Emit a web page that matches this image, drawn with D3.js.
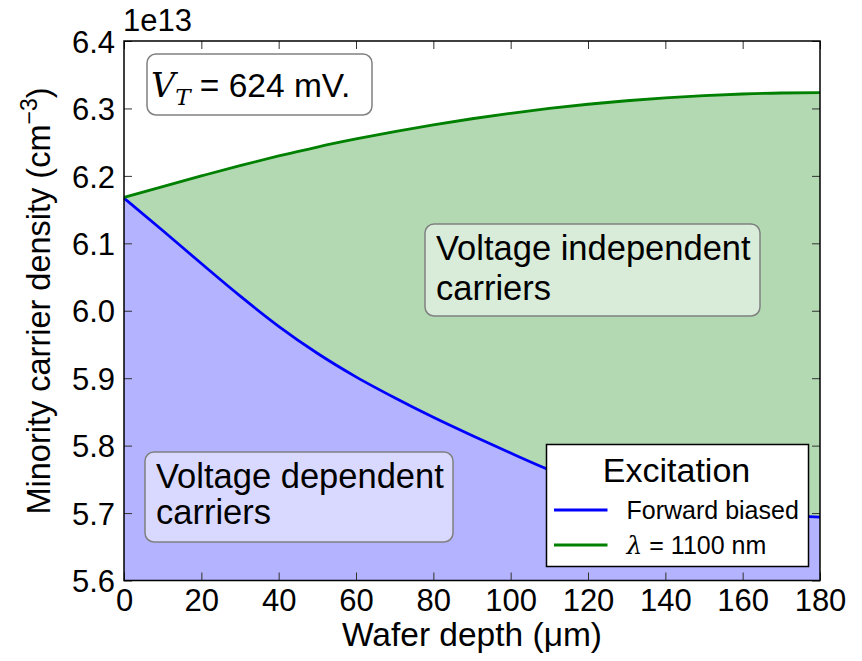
<!DOCTYPE html>
<html>
<head>
<meta charset="utf-8">
<script src="https://cdn.jsdelivr.net/npm/d3@7"></script>
<style>
  body { margin: 0; background: #fff; }
  svg text { font-family: "Liberation Sans", Arial, sans-serif; fill: #000; }
</style>
</head>
<body>
<svg id="chart" width="862" height="661"></svg>
<script>
// DATA (values in units of 1e13 cm^-3)
const depth         = [0, 10, 20, 30, 40, 50, 60, 70, 80, 90, 100, 110, 120, 130, 140, 150, 160, 170, 180]
const forwardBiased = [6.167, 6.119, 6.070, 6.022, 5.977, 5.937, 5.902, 5.871, 5.842, 5.815, 5.789, 5.764, 5.742, 5.725, 5.713, 5.705, 5.700, 5.697, 5.694]
const lambda1100    = [6.168, 6.1842, 6.1999, 6.2152, 6.2295, 6.2428, 6.2547, 6.2657, 6.2757, 6.2847, 6.2928, 6.300, 6.3062, 6.3114, 6.3157, 6.319, 6.3214, 6.3229, 6.3233]
const xTicks = [0, 20, 40, 60, 80, 100, 120, 140, 160, 180]
const yTicks = [5.6, 5.7, 5.8, 5.9, 6.0, 6.1, 6.2, 6.3, 6.4]
const legendItems = [
    { label: 'Forward biased', color: '#0000ff' },
    { label: 'λ = 1100 nm',    color: '#008000', math: true }
]

const svg = d3.select('#chart')
const plot = { left: 124, right: 820, top: 41, bottom: 580.5 }

const x = d3.scaleLinear().domain([0, 180]).range([plot.left, plot.right])
const y = d3.scaleLinear().domain([5.6, 6.4]).range([plot.bottom, plot.top])

const rows = depth.map((d, i) => ({ d, fb: forwardBiased[i], la: lambda1100[i] }))
const curve = d3.curveMonotoneX

// 1. Filled areas
svg.append('path').datum(rows)
    .attr('fill', '#b3b3ff')
    .attr('d', d3.area().x(r => x(r.d)).y0(y(5.6)).y1(r => y(r.fb)).curve(curve))

svg.append('path').datum(rows)
    .attr('fill', '#b3d9b3')
    .attr('d', d3.area().x(r => x(r.d)).y0(r => y(r.fb)).y1(r => y(r.la)).curve(curve))

// 2. Lines
const lineOf = key => d3.line().x(r => x(r.d)).y(r => y(r[key])).curve(curve)
svg.append('path').datum(rows).attr('fill', 'none').attr('stroke', '#0000ff').attr('stroke-width', 2.8).attr('d', lineOf('fb'))
svg.append('path').datum(rows).attr('fill', 'none').attr('stroke', '#008000').attr('stroke-width', 2.8).attr('d', lineOf('la'))

// 3. Axes (ticks inward, on all four sides)
const tickLen = 8
const axisFont = '31px'
const bottomAxis = svg.append('g').attr('transform', `translate(0,${plot.bottom})`)
    .call(d3.axisBottom(x).tickValues(xTicks).tickSize(-tickLen).tickPadding(8).tickFormat(d3.format('d')))
const topAxis = svg.append('g').attr('transform', `translate(0,${plot.top})`)
    .call(d3.axisTop(x).tickValues(xTicks).tickSize(-tickLen).tickFormat(''))
const leftAxis = svg.append('g').attr('transform', `translate(${plot.left},0)`)
    .call(d3.axisLeft(y).tickValues(yTicks).tickSize(-tickLen).tickPadding(9).tickFormat(d3.format('.1f')))
const rightAxis = svg.append('g').attr('transform', `translate(${plot.right},0)`)
    .call(d3.axisRight(y).tickValues(yTicks).tickSize(-tickLen).tickFormat(''))

;[bottomAxis, topAxis, leftAxis, rightAxis].forEach(g => {
    g.select('.domain').remove()
    g.selectAll('.tick line').attr('stroke', '#333').attr('stroke-width', 1)
    g.selectAll('text').style('font-size', axisFont).attr('font-family', null)
})
bottomAxis.selectAll('.tick text').attr('dy', '0.71em')
leftAxis.selectAll('.tick text').attr('dy', '0.36em')

// frame
svg.append('rect')
    .attr('x', plot.left).attr('y', plot.top)
    .attr('width', plot.right - plot.left).attr('height', plot.bottom - plot.top)
    .attr('fill', 'none').attr('stroke', '#000').attr('stroke-width', 1.5)

// offset text
svg.append('text').attr('x', plot.left - 1).attr('y', 31).style('font-size', '31px').text('1e13')

// axis labels
svg.append('text').attr('x', (plot.left + plot.right) / 2).attr('y', 646)
    .attr('text-anchor', 'middle').style('font-size', '33.5px').text('Wafer depth (μm)')

const yl = svg.append('text')
    .attr('transform', `translate(50,301) rotate(-90)`)
    .attr('text-anchor', 'middle').style('font-size', '32.5px')
yl.append('tspan').text('Minority carrier density (cm')
yl.append('tspan').attr('dy', -13).style('font-size', '23px').text('−3')
yl.append('tspan').attr('dy', 13).text(')')

// 4. Annotation boxes
function labelBox(bx, by, bw, bh, fill, lines, baselines, size) {
    svg.append('rect').attr('x', bx).attr('y', by).attr('width', bw).attr('height', bh)
        .attr('rx', 9).attr('fill', fill).attr('stroke', '#808080').attr('stroke-width', 1.5)
    const t = svg.append('text').style('font-size', size)
    lines.forEach((l, i) => t.append('tspan').attr('x', bx + 11).attr('y', baselines[i]).text(l))
}

// V_T box
svg.append('rect').attr('x', 147).attr('y', 54).attr('width', 225).attr('height', 61)
    .attr('rx', 9).attr('fill', '#fff').attr('stroke', '#808080').attr('stroke-width', 1.5)
const vt = svg.append('text').attr('x', 151).attr('y', 96.5).style('font-size', '33.5px')
vt.append('tspan').attr('font-family', '"DejaVu Serif", serif').style('font-style', 'italic').text('V')
vt.append('tspan').attr('font-family', '"DejaVu Serif", serif').style('font-style', 'italic')
    .style('font-size', '23px').attr('dy', 8).text('T')
vt.append('tspan').attr('dy', -8).text(' = 624 mV.')

labelBox(425, 224, 335, 92, '#d9ecd9', ['Voltage independent', 'carriers'], [260, 300], '34.5px')
labelBox(145, 452, 308, 90, '#d9d9ff', ['Voltage dependent', 'carriers'], [488, 523.5], '34.5px')

// 5. Legend
const lg = svg.append('g').attr('transform', 'translate(546.5,444.5)')
lg.append('rect').attr('width', 262).attr('height', 122)
    .attr('fill', '#fff').attr('stroke', '#000').attr('stroke-width', 1.5)
lg.append('text').attr('x', 130).attr('y', 37).attr('text-anchor', 'middle')
    .style('font-size', '34px').text('Excitation')
legendItems.forEach((item, i) => {
    const ly = 65.5 + i * 35
    lg.append('line').attr('x1', 7.5).attr('x2', 61).attr('y1', ly).attr('y2', ly)
        .attr('stroke', item.color).attr('stroke-width', 2.8)
    const t = lg.append('text').attr('x', 80).attr('y', ly + 8.5).style('font-size', '25px')
    if (item.math) {
        t.append('tspan').attr('font-family', '"DejaVu Serif", serif').style('font-style', 'italic').text('λ')
        t.append('tspan').text(item.label.slice(1))
    } else {
        t.text(item.label)
    }
})
</script>
</body>
</html>
